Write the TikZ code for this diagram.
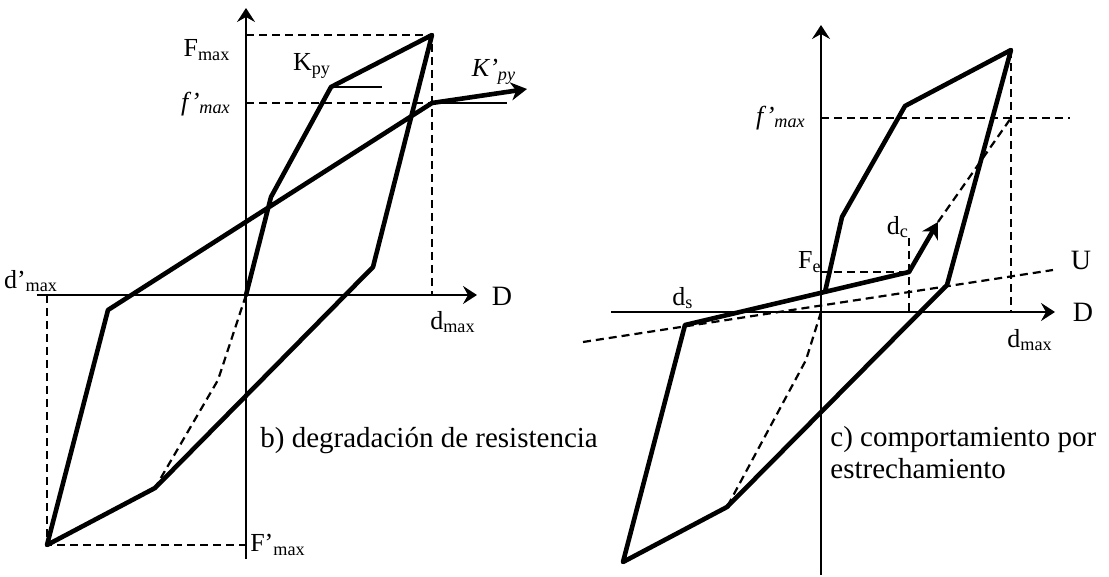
\documentclass[tikz,border=0pt]{standalone}
\usepackage{fontspec}
\setmainfont{Liberation Serif}
\usepackage{tikz}
\usetikzlibrary{arrows.meta}

\begin{document}
\begin{tikzpicture}[
  x=0.5pt, y=-0.5pt,
  font=\fontsize{13}{15}\selectfont,
  >={Stealth[length=7pt, width=9pt, inset=2.5pt]},
  axis/.style={->, line width=1.1pt},
  curve/.style={line width=2.3pt, line join=round, line cap=round},
  guide/.style={line width=1.1pt, dash pattern=on 4pt off 2.5pt},
  slope/.style={line width=1.1pt},
  lbl/.style={inner sep=1pt},
  note/.style={inner sep=0pt, font=\fontsize{14.5}{16}\selectfont},
  bigarr/.style={-{Stealth[length=8pt, width=9pt, inset=2.5pt]}, line width=2.3pt},
]
  \useasboundingbox (0,0) rectangle (1109,577);

  % b) degradacion de resistencia
  \coordinate (o1) at (246,295);
  \coordinate (xl1) at (37,295);
  \coordinate (xr1) at (477,295);
  \coordinate (yb1) at (246,559);
  \coordinate (yt1) at (246,8);
  \coordinate (fmx1) at (432,35);
  \coordinate (ky1) at (331,87);
  \coordinate (el1) at (271,197);
  \coordinate (un1) at (373,267);
  \coordinate (rl1) at (155,488);
  \coordinate (kk1) at (218,380);
  \coordinate (mn1) at (47,545);
  \coordinate (yn1) at (108,310);
  \coordinate (fd1) at (432,103);
  \coordinate (kp1) at (527,89);

  \draw[axis] (xl1) -- (xr1);
  \draw[axis] (yb1) -- (yt1);
  \draw[guide] (o1 |- fmx1) -- (fmx1) -- (fmx1 |- o1);
  \draw[guide] (o1 |- fd1) -- (fd1);
  \draw[guide] (mn1 |- o1) -- (mn1) -- (mn1 -| o1);
  \draw[guide] (o1) -- (kk1) -- (rl1);
  \draw[slope] (ky1) -- ++(51,0);
  \draw[slope] (fd1) -- ++(75,0);
  \draw[curve] (o1) -- (el1) -- (ky1) -- (fmx1) -- (un1) -- (rl1)
    -- (mn1) -- (yn1) -- (fd1);
  \draw[bigarr] (fd1) -- (kp1);

  \node[lbl] (lfmx1) at (207,50) {F\textsubscript{max}};
  \node[lbl] (lky1) at (312,66) {K\textsubscript{py}};
  \node[lbl] (lfd1) at (206,104) {\textit{f'}\textsubscript{\textit{max}}};
  \node[lbl] (lkp1) at (494,72) {\textit{K'}\textsubscript{\textit{py}}};
  \node[lbl] (ldmn1) at (31,281) {d'\textsubscript{max}};
  \node[lbl] (lx1) at (502,296) {\fontsize{14}{16}\selectfont D};
  \node[lbl] (ldmx1) at (453,322) {d\textsubscript{max}};
  \node[lbl] (lfmn1) at (278,545) {F'\textsubscript{max}};
  \node[note, anchor=base west] (capb) at (260,447) {b) degradación de resistencia};

  % c) comportamiento por estrechamiento
  \coordinate (o2) at (821,312);
  \coordinate (xl2) at (611,312);
  \coordinate (xr2) at (1055,312);
  \coordinate (yb2) at (821,575);
  \coordinate (yt2) at (821,25);
  \coordinate (fmx2) at (1011,50);
  \coordinate (ky2) at (905,106);
  \coordinate (el2) at (842,217);
  \coordinate (pc2) at (825,292);
  \coordinate (un2) at (947,285);
  \coordinate (rl2) at (727,507);
  \coordinate (kk2) at (806,360);
  \coordinate (mn2) at (623,562);
  \coordinate (ds2) at (685,325);
  \coordinate (fe2) at (909,272);
  \coordinate (dc2) at (909,238);
  \coordinate (tip2) at (938,222);
  \coordinate (fd2) at (1011,118);
  \coordinate (fr2) at (1070,118);
  \coordinate (ua2) at (583,342);
  \coordinate (ub2) at (1053,270);

  \draw[axis] (xl2) -- (xr2);
  \draw[axis] (yb2) -- (yt2);
  \draw[guide] (fmx2) -- (fmx2 |- o2);
  \draw[guide] (o2 |- fd2) -- (fr2);
  \draw[guide] (o2 |- fe2) -- (fe2);
  \draw[guide] (dc2) -- (dc2 |- o2);
  \draw[guide] (tip2) -- (fd2);
  \draw[guide] (ua2) -- (ub2);
  \draw[guide] (o2) -- (kk2) -- (rl2);
  \draw[curve] (pc2) -- (el2) -- (ky2) -- (fmx2) -- (un2) -- (rl2)
    -- (mn2) -- (ds2) -- (fe2);
  \draw[bigarr] (fe2) -- (tip2);

  \node[lbl] (lfd2) at (781,118) {\textit{f'}\textsubscript{\textit{max}}};
  \node[lbl] (lfe2) at (810,262) {F\textsubscript{e}};
  \node[lbl] (ldc2) at (898,227) {d\textsubscript{c}};
  \node[lbl] (lu2) at (1081,260) {\fontsize{14}{16}\selectfont U};
  \node[lbl] (lx2) at (1083,312) {\fontsize{14}{16}\selectfont D};
  \node[lbl] (lds2) at (683,298) {d\textsubscript{s}};
  \node[lbl] (ldmx2) at (1030,340) {d\textsubscript{max}};
  \node[note, align=left, anchor=west] (capc) at (830,453)
    {c) comportamiento por\\estrechamiento};
\end{tikzpicture}
\end{document}
